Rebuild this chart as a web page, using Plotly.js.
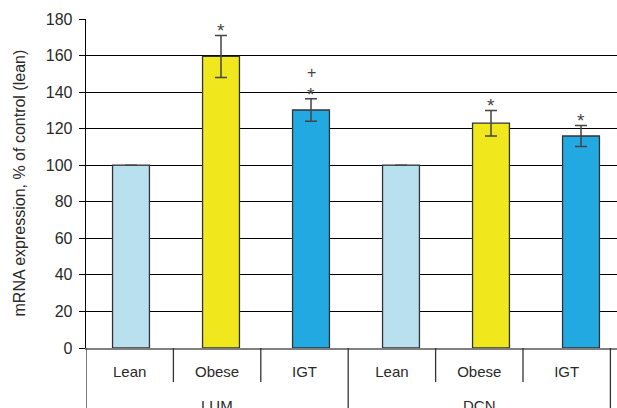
<!DOCTYPE html>
<html>
<head>
<meta charset="utf-8">
<script src="https://cdn.plot.ly/plotly-3.0.1.min.js"></script>
<style>
html,body{margin:0;padding:0;overflow:hidden;background:#fff;width:617px;height:408px;}
#chart{width:640px;height:420px;}
</style>
</head>
<body>
<div id="chart"></div>
<script>
// ---- data ----
var groups = ['LUM', 'DCN'];
var subgroups = ['Lean', 'Obese', 'IGT'];
var lumValues = [100, 159.5, 130.2];
var lumErrors = [0, 11.5, 6.1];
var dcnValues = [100, 123, 116];
var dcnErrors = [0, 7, 5.8];
// significance symbols, stacked from the bar upward
var lumMarks = [[], ['*'], ['*', '+']];
var dcnMarks = [[], ['*'], ['*']];
var subColors = ['#b9e0ef', '#f0e81c', '#22a9e2'];
var yTickVals = [0, 20, 40, 60, 80, 100, 120, 140, 160, 180];

// ---- build ----
var values = lumValues.concat(dcnValues);
var errors = lumErrors.concat(dcnErrors);
var marks = lumMarks.concat(dcnMarks);
var labels = subgroups.concat(subgroups);
var colors = subColors.concat(subColors);
var xs = labels.map(function (d, i) { return i; });
var n = subgroups.length;

var fam = 'Liberation Sans, Arial, sans-serif';
var txt = '#2a2a2a';

var bars = {
  type: 'bar',
  x: xs,
  y: values,
  width: 0.41,
  marker: {color: colors, line: {color: '#333', width: 1.3}},
  error_y: {type: 'data', array: errors, visible: true, color: '#444', thickness: 1.5, width: 6},
  hoverinfo: 'skip'
};
// the category label table below the plot uses its own (slightly narrower) axis
var table = {
  type: 'scatter', mode: 'markers', x: xs, y: xs.map(function () { return null; }),
  xaxis: 'x2', yaxis: 'y', hoverinfo: 'skip', showlegend: false
};

var shapes = [];
for (var i = 0; i <= xs.length; i++) {
  var isGroup = (i % n === 0);
  shapes.push({
    type: 'line', xref: 'x2', yref: 'paper', ysizemode: 'pixel', yanchor: 0,
    x0: i - 0.5, x1: i - 0.5, y0: 0, y1: isGroup ? -90 : -34,
    line: {color: '#333', width: 1.3}
  });
}

var symStyle = {'*': {size: 19, off: 4.5}, '+': {size: 16, off: 0}};
var annotations = [];
marks.forEach(function (list, i) {
  list.forEach(function (m, k) {
    annotations.push({
      x: xs[i], y: values[i] + errors[i], xref: 'x', yref: 'y',
      text: m, showarrow: false, yanchor: 'middle',
      yshift: 9 + 17 * k - symStyle[m].off,
      font: {family: fam, size: symStyle[m].size, color: '#444'}
    });
  });
});
groups.forEach(function (g, gi) {
  annotations.push({
    x: gi * n + (n - 1) / 2, y: 0, xref: 'x2', yref: 'paper',
    text: g, showarrow: false, yanchor: 'top', yshift: -47,
    font: {family: fam, size: 15, color: txt}
  });
});
annotations.push({
  xref: 'paper', yref: 'paper', x: 0, y: 0.5, xshift: -67,
  xanchor: 'center', yanchor: 'middle',
  text: 'mRNA expression, % of control (lean)', textangle: -90,
  showarrow: false, font: {family: fam, size: 16, color: txt}
});

var layout = {
  width: 640, height: 420,
  margin: {l: 86, r: 14, t: 19, b: 72},
  paper_bgcolor: '#fff', plot_bgcolor: '#fff',
  font: {family: fam, size: 15, color: txt},
  showlegend: false,
  xaxis: {
    range: [-0.5, xs.length - 0.5],
    showticklabels: false, ticks: '', showgrid: false, zeroline: false,
    showline: true, linecolor: '#808080', linewidth: 1.5, fixedrange: true
  },
  xaxis2: {
    overlaying: 'x', anchor: 'y', side: 'bottom',
    range: [-0.5, -0.5 + xs.length * 540 / 524.4],
    tickvals: xs, ticktext: labels,
    ticks: '', showgrid: false, zeroline: false, showline: false,
    ticklabelstandoff: 13,
    tickfont: {family: fam, size: 15, color: txt}, fixedrange: true
  },
  yaxis: {
    range: [0, 180],
    tickvals: yTickVals,
    ticks: 'outside', ticklen: 6, tickcolor: '#000', tickwidth: 1,
    showgrid: true, gridcolor: '#000', gridwidth: 1,
    zeroline: false,
    showline: true, linecolor: '#000', linewidth: 1.3,
    ticklabelstandoff: 3,
    tickfont: {family: fam, size: 16, color: txt}, fixedrange: true
  },
  shapes: shapes,
  annotations: annotations
};

Plotly.newPlot('chart', [bars, table], layout, {displayModeBar: false, staticPlot: true});
</script>
</body>
</html>
